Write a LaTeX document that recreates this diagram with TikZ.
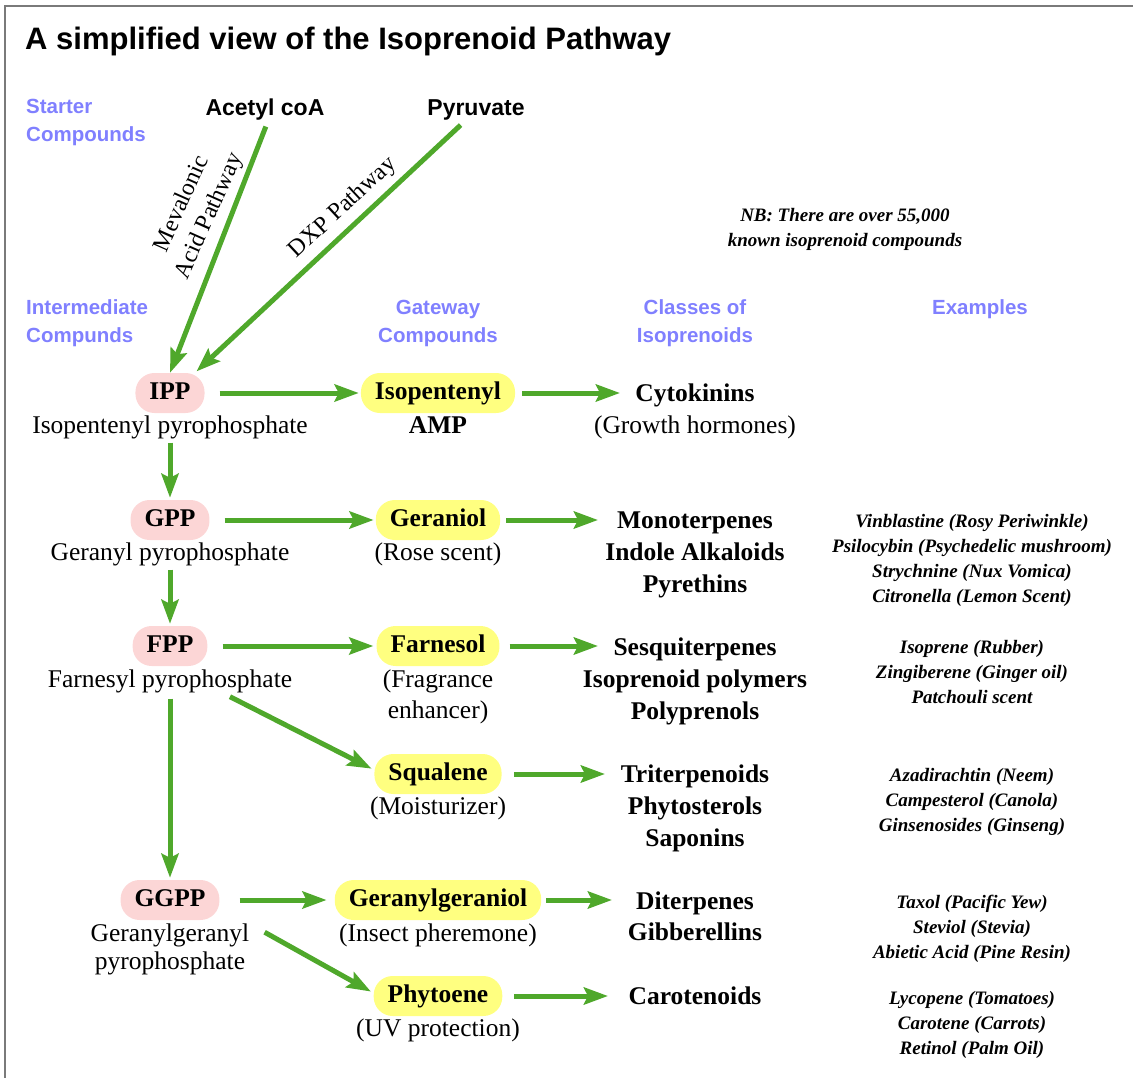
\documentclass[tikz,border=0pt]{standalone}
\usepackage{fontspec}
\setmainfont{Liberation Serif}
\newfontfamily\sansf{Liberation Sans}
\usetikzlibrary{arrows.meta,calc}
\definecolor{arrgreen}{HTML}{4FA82B}
\definecolor{pillpink}{HTML}{FCD6D6}
\definecolor{pillyellow}{HTML}{FFFF80}
\definecolor{hdrblue}{HTML}{8080FF}
\definecolor{framegray}{HTML}{7A7A7A}
\newcommand\bodyfnt{\fontsize{25.5}{32}\selectfont}
\newcommand\exfnt{\fontsize{19}{25}\selectfont\bfseries\itshape}
\begin{document}
\begin{tikzpicture}[x=1pt,y=-1pt,
  every node/.style={inner sep=0pt},
  arr/.style={draw=arrgreen, line width=5pt, -{Stealth[length=24pt,width=17pt,inset=4pt]}},
  titlefnt/.style={font=\sansf\bfseries\fontsize{31}{36}\selectfont, anchor=base west},
  hdr/.style={font=\sansf\bfseries\fontsize{20.5}{28}\selectfont, text=hdrblue, anchor=base},
  starter/.style={font=\sansf\bfseries\fontsize{23}{28}\selectfont, anchor=base},
  pill/.style={rounded corners=19pt, minimum height=40pt, inner xsep=14pt, inner ysep=0pt,
    text height=17pt, text depth=5pt, font=\bodyfnt\bfseries},
  inter/.style={pill, fill=pillpink},
  gate/.style={pill, fill=pillyellow},
  lbl/.style={font=\bodyfnt, anchor=base, align=center},
  cls/.style={font=\bodyfnt\bfseries, anchor=base, align=center},
  ex/.style={font=\exfnt, anchor=base, align=center},
  pathlbl/.style={font=\fontsize{24}{30}\selectfont, align=center}
]
\useasboundingbox (0,0) rectangle (1133,1078);
\draw[framegray, line width=2pt] (5,1078) -- (5,6) -- (1133,6);

% title and headers (multi-line nodes: base = last line's baseline)
\node[titlefnt] (title) at (25,50) {A simplified view of the Isoprenoid Pathway};
\node[hdr, anchor=base west, align=left] (hstart) at (26,142) {Starter\\Compounds};
\node[hdr, anchor=base west, align=left] (hinter) at (26,342) {Intermediate\\Compunds};
\node[hdr, align=center] (hgate) at (438,342) {Gateway\\Compounds};
\node[hdr, align=center] (hclass) at (695,342) {Classes of\\Isoprenoids};
\node[hdr] (hex) at (980,314) {Examples};

\node[starter] (acetyl) at (265,116) {Acetyl coA};
\node[starter] (pyruvate) at (476,116) {Pyruvate};

\node[ex] (nb) at (845,247) {NB: There are over 55,000\\known isoprenoid compounds};

% row 1
\node[inter] (ipp) at (170,393) {IPP};
\node[lbl] (ipplbl) at (170,433) {Isopentenyl pyrophosphate};
\node[gate] (isoamp) at (438,393) {Isopentenyl};
\node[cls] (amp) at (438,433) {AMP};
\node[cls] (cyto) at (695,401) {Cytokinins};
\node[lbl] (growth) at (695,433) {(Growth hormones)};

% row 2
\node[inter] (gpp) at (170,520) {GPP};
\node[lbl] (gpplbl) at (170,560) {Geranyl pyrophosphate};
\node[gate] (geraniol) at (438,520) {Geraniol};
\node[lbl] (rose) at (438,560) {(Rose scent)};
\node[cls] (mono) at (695,592) {Monoterpenes\\Indole Alkaloids\\Pyrethins};
\node[ex] (ex2) at (972,602) {Vinblastine (Rosy Periwinkle)\\Psilocybin (Psychedelic mushroom)\\Strychnine (Nux Vomica)\\Citronella (Lemon Scent)};

% row 3
\node[inter] (fpp) at (170,646) {FPP};
\node[lbl] (fpplbl) at (170,687) {Farnesyl pyrophosphate};
\node[gate] (farnesol) at (438,646) {Farnesol};
\node[lbl, font=\fontsize{25.5}{31}\selectfont] (fragrance) at (438,718) {(Fragrance\\enhancer)};
\node[cls] (sesq) at (695,719) {Sesquiterpenes\\Isoprenoid polymers\\Polyprenols};
\node[ex] (ex3) at (972,703) {Isoprene (Rubber)\\Zingiberene (Ginger oil)\\Patchouli scent};

% row 4
\node[gate] (squalene) at (438,774) {Squalene};
\node[lbl] (moist) at (438,814) {(Moisturizer)};
\node[cls] (tri) at (695,846) {Triterpenoids\\Phytosterols\\Saponins};
\node[ex] (ex4) at (972,831) {Azadirachtin (Neem)\\Campesterol (Canola)\\Ginsenosides (Ginseng)};

% row 5
\node[inter] (ggpp) at (170,900) {GGPP};
\node[lbl, font=\fontsize{25.5}{28}\selectfont] (ggpplbl) at (170,969) {Geranylgeranyl\\pyrophosphate};
\node[gate] (ggol) at (438,900) {Geranylgeraniol};
\node[lbl] (insect) at (438,941) {(Insect pheremone)};
\node[cls, font=\fontsize{25.5}{31}\selectfont\bfseries] (dit) at (695,940) {Diterpenes\\Gibberellins};
\node[ex] (ex5) at (972,958) {Taxol (Pacific Yew)\\Steviol (Stevia)\\Abietic Acid (Pine Resin)};

% row 6
\node[gate] (phyt) at (438,996) {Phytoene};
\node[lbl] (uv) at (438,1036) {(UV protection)};
\node[cls] (caro) at (695,1004) {Carotenoids};
\node[ex] (ex6) at (972,1054) {Lycopene (Tomatoes)\\Carotene (Carrots)\\Retinol (Palm Oil)};

% pathway labels
\node[pathlbl, rotate=66] (mval) at (196,210) {Mevalonic\\Acid Pathway};
\node[pathlbl, rotate=43] (dxp) at (343,208) {DXP Pathway};

% arrows: starters
\draw[arr, shorten <=6pt] ([xshift=3pt]acetyl.south) -- (ipp.north);
\draw[arr, shorten <=6pt, shorten >=2pt] ([xshift=-11pt]pyruvate.south) -- ([xshift=25pt]ipp.north);

% intermediate to gateway
\draw[arr, shorten <=15pt, shorten >=2pt] (ipp) -- (isoamp);
\draw[arr, shorten <=15pt, shorten >=2pt] (gpp) -- (geraniol);
\draw[arr, shorten <=15pt, shorten >=3pt] (fpp) -- (farnesol);
\draw[arr, shorten <=20pt, shorten >=8pt] (ggpp) -- (ggol);
\draw[arr, shorten >=3pt] ($(fpplbl.south)+(60,4)$) -- ([yshift=4pt]squalene.west);
\draw[arr, shorten >=3pt] ($(ggpp.south east)+(45,12)$) -- ([yshift=3pt]phyt.west);

% vertical
\draw[arr, shorten <=4pt, shorten >=2pt] (ipplbl.south) -- (gpp.north);
\draw[arr, shorten <=4pt, shorten >=2pt] (gpplbl.south) -- (fpp.north);
\draw[arr, shorten <=6pt, shorten >=2pt] (fpplbl.south) -- (ggpp.north);

% gateway to classes
\draw[arr, shorten <=7pt] (isoamp.east) -- ([xshift=-75pt]isoamp.east -| hclass.center);
\draw[arr, shorten <=6pt] (geraniol.east) -- ([xshift=-97pt]geraniol.east -| hclass.center);
\draw[arr, shorten <=10pt] (farnesol.east) -- ([xshift=-97pt]farnesol.east -| hclass.center);
\draw[arr, shorten <=12pt] (squalene.east) -- ([xshift=-90pt]squalene.east -| hclass.center);
\draw[arr, shorten <=5pt] (ggol.east) -- ([xshift=-83pt]ggol.east -| hclass.center);
\draw[arr, shorten <=12pt] (phyt.east) -- ([xshift=-87pt]phyt.east -| hclass.center);
\end{tikzpicture}
\end{document}
